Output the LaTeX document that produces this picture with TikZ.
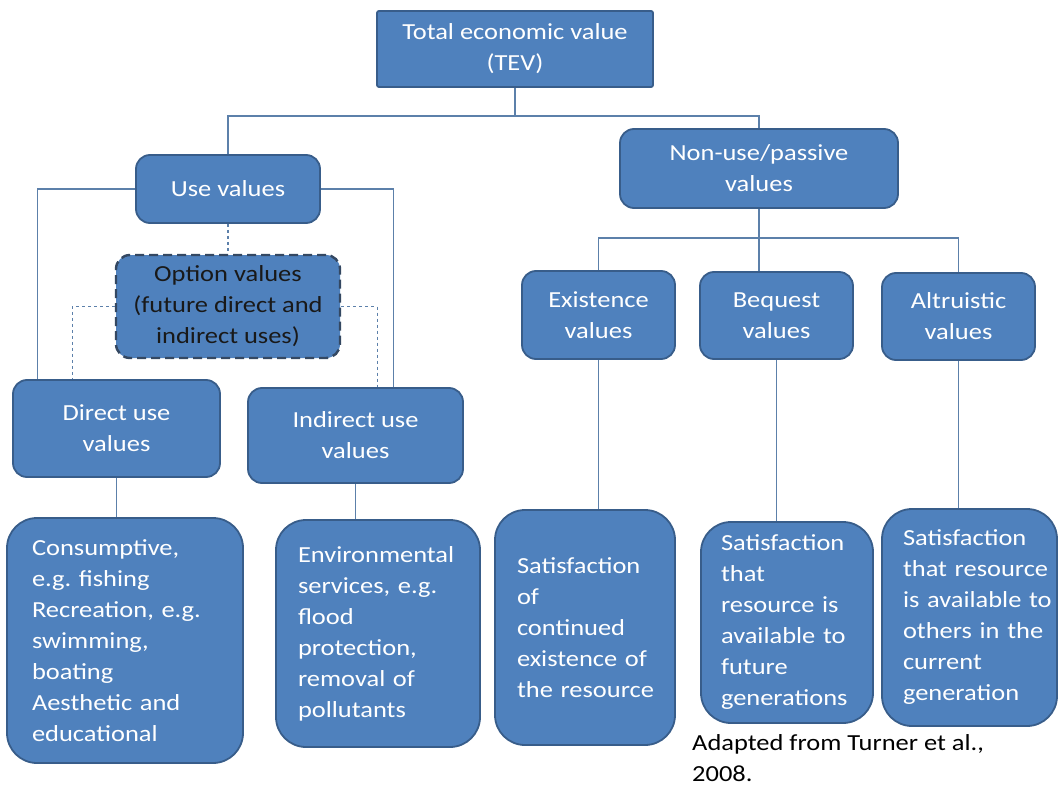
\documentclass[tikz,border=0pt]{standalone}
\usepackage{fontspec}
\setmainfont{Carlito}[FakeStretch=1.15]
\usetikzlibrary{calc}
\definecolor{boxfill}{RGB}{79,129,189}
\definecolor{boxline}{RGB}{56,93,138}
\definecolor{optline}{RGB}{52,72,98}
\definecolor{conn}{RGB}{92,128,170}
\newcommand{\boxfont}{\fontsize{23}{31}\selectfont\hyphenpenalty=10000\exhyphenpenalty=10000}
\tikzset{
  box/.style={draw=boxline, fill=boxfill, line width=1.8pt, text=white,
    font=\boxfont, align=center, rounded corners=14pt, inner sep=0pt},
  lbox/.style={box, align=left, rounded corners=30pt},
  optbox/.style={box, draw=optline, text={black!90}, dash pattern=on 9pt off 5pt, line width=2.4pt},
  link/.style={draw=conn, line width=1.1pt},
  dlink/.style={draw=conn, line width=1.1pt, dash pattern=on 3pt off 3pt}
}
\begin{document}
\begin{tikzpicture}[x=1pt, y=-1pt]
\fill[white] (0,0) rectangle (1059,786);
\useasboundingbox (0,0) rectangle (1059,786);

% top level
\node[box, rounded corners=2pt, minimum width=276pt, minimum height=76pt] (tev) at (515,49)
  {Total economic value\\(TEV)};
\node[box, minimum width=184pt, minimum height=68pt] (use) at (228,189) {Use values};
\node[box, minimum width=278pt, minimum height=79pt] (nonuse) at (759,168.5) {Non-use/passive\\values};

% use branch
\node[optbox, minimum width=224pt, minimum height=103pt] (option) at (228,306.5)
  {Option values\\(future direct and\\indirect uses)};
\node[box, minimum width=207pt, minimum height=97pt] (direct) at (116.5,428.5) {Direct use\\values};
\node[box, minimum width=215pt, minimum height=95pt] (indirect) at (355.5,435.5) {Indirect use\\values};

% non-use branch
\node[box, minimum width=153pt, minimum height=88pt] (exist) at (598.5,315) {Existence\\values};
\node[box, minimum width=153pt, minimum height=87pt] (bequest) at (776.5,315.5) {Bequest\\values};
\node[box, minimum width=153pt, minimum height=87pt] (altru) at (958.5,316.5) {Altruistic\\values};

% bottom boxes
\node[lbox, minimum width=236pt, minimum height=245pt, text width=186pt] (cons) at (125,640.5)
  {Consumptive,\\e.g.~fishing\\Recreation,~e.g.\\swimming,\\boating\\Aesthetic~and\\educational};
\node[lbox, minimum width=204pt, minimum height=227pt, text width=160pt] (env) at (378,633.5)
  {Environmental\\services,~e.g.\\flood\\protection,\\removal~of\\pollutants};
\node[lbox, minimum width=180pt, minimum height=235pt, text width=136pt] (sat1) at (585,627.5)
  {Satisfaction\\of\\continued\\existence~of\\the~resource};
\node[lbox, minimum width=172pt, minimum height=201pt, text width=132pt] (sat2) at (787,622.5)
  {Satisfaction\\that\\resource~is\\available~to\\future\\generations};
\node[lbox, minimum width=175pt, minimum height=217pt, text width=133pt] (sat3) at (969.5,617.5)
  {Satisfaction\\that~resource\\is~available~to\\others~in~the\\current\\generation};

\node[font=\boxfont, align=left, anchor=north west, inner sep=0pt] (src) at (692,734)
  {Adapted from Turner et al.,\\2008.};

% connectors
\coordinate (j1) at (515,116);
\coordinate (j2) at (759,238);
\draw[link] (tev.south) -- (j1);
\draw[link] (use.north) |- (j1) -| (nonuse.north);
\draw[link] (nonuse.south) -- (bequest.north -| nonuse.south);
\draw[link] (exist.north) |- (j2) -| (altru.north);

\draw[link] (use.west) -| ($(direct.north west)+(25,0)$);
\draw[link] (use.east) -| ($(indirect.north east)+(-70,0)$);
\draw[dlink] (use.south) -- (option.north);
\draw[dlink] (option.west) -| ($(direct.north west)+(60,0)$);
\draw[dlink] (option.east) -| ($(indirect.north west)+(130,0)$);

\draw[link] (direct.south) -- (direct.south |- cons.north);
\draw[link] (indirect.south) -- (indirect.south |- env.north);
\draw[link] (exist.south) -- (exist.south |- sat1.north);
\draw[link] (bequest.south) -- (bequest.south |- sat2.north);
\draw[link] (altru.south) -- (altru.south |- sat3.north);
\end{tikzpicture}
\end{document}
